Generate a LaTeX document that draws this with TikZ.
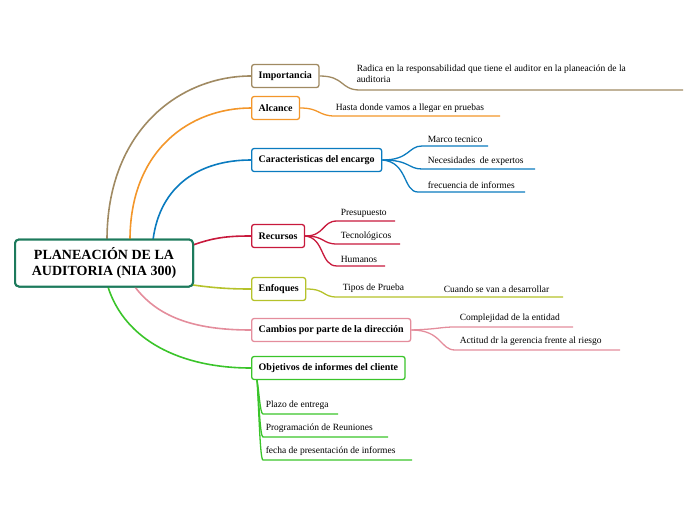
\documentclass[tikz,border=0pt]{standalone}
\usepackage{fontspec}
\setmainfont{Liberation Serif}
\begin{document}
\begin{tikzpicture}[x=1pt,y=-1pt,line width=1.5pt,
  topic/.style={draw=#1,rounded corners=2.5pt,fill=white,font=\fontsize{10}{12}\selectfont\bfseries,inner xsep=7pt,minimum height=23pt,anchor=west,line width=1.3pt},
  leaf/.style={font=\fontsize{9.5}{11}\selectfont,anchor=south west,inner sep=1pt},
  conn/.style={draw=#1,line width=1.6pt}]
\useasboundingbox (0,0) rectangle (696,520);
\definecolor{cimp}{HTML}{A08A62}\definecolor{calc}{HTML}{F3962A}
\definecolor{ccar}{HTML}{0A7BBF}\definecolor{crec}{HTML}{C8193C}
\definecolor{cenf}{HTML}{B5C22A}\definecolor{ccam}{HTML}{E48D9C}
\definecolor{cobj}{HTML}{3AC42A}\definecolor{croot}{HTML}{1D7A5C}
\node[draw=croot,line width=2pt,rounded corners=4pt,minimum width=178pt,minimum height=47pt,align=center,font=\fontsize{14}{16}\selectfont\bfseries,fill=white] (root) at (104,263) {PLANEACIÓN DE LA\\AUDITORIA (NIA 300)};
% connectors first
\coordinate (rImp) at (107,240);\coordinate (rAlc) at (130,240);\coordinate (rCar) at (153,240);
\coordinate (rRec) at (193,245);\coordinate (rEnf) at (193,285);\coordinate (rCam) at (135,287);\coordinate (rObj) at (108,287);
\draw[conn=cimp] (rImp) .. controls (107,130) and (180,76) .. (251,76);
\draw[conn=calc] (rAlc) .. controls (130,150) and (190,108) .. (251,108);
\draw[conn=ccar] (rCar) .. controls (160,185) and (200,160) .. (251,160);
\draw[conn=crec] (rRec) .. controls (215,237) and (230,236) .. (251,236);
\draw[conn=cenf] (rEnf) .. controls (215,288) and (230,289) .. (251,289);
\draw[conn=ccam] (rCam) .. controls (160,320) and (200,330) .. (251,330);
\draw[conn=cobj] (rObj) .. controls (125,340) and (180,368) .. (251,368);
\node[draw=croot,line width=2pt,rounded corners=4pt,minimum width=178pt,minimum height=47pt,align=center,font=\fontsize{14}{16}\selectfont\bfseries,fill=white] at (104,263) {PLANEACIÓN DE LA\\AUDITORIA (NIA 300)};
\node[topic=cimp] (imp) at (251,76) {Importancia};
\node[topic=calc] (alc) at (251,108) {Alcance};
\node[topic=ccar] (car) at (251,160) {Caracteristicas del encargo};
\node[topic=crec] (rec) at (251,236) {Recursos};
\node[topic=cenf] (enf) at (251,289) {Enfoques};
\node[topic=ccam] (cam) at (251,330) {Cambios por parte de la dirección};
\node[topic=cobj] (obj) at (251,368) {Objetivos de informes del cliente};
% Importancia
\draw[conn=cimp,line width=1.3pt] (imp.east) .. controls (345,76) and (340,90) .. (360,90) -- (683,90);
\node[leaf,align=left,anchor=north west] at (355,63) {Radica en la responsabilidad que tiene el auditor en la planeación de la\\auditoria};
% Alcance
\draw[conn=calc,line width=1.3pt] (alc.east) .. controls (320,108) and (318,116) .. (335,116) -- (500,116);
\node[leaf] at (334,114) {Hasta donde vamos a llegar en pruebas};
% Caracteristicas
\draw[conn=ccar,line width=1.3pt] (car.east) .. controls (410,160) and (408,146) .. (422,146) -- (488,146);
\draw[conn=ccar,line width=1.3pt] (car.east) .. controls (410,160) and (408,169) .. (422,169) -- (535,169);
\draw[conn=ccar,line width=1.3pt] (car.east) .. controls (408,162) and (403,192) .. (418,192) -- (525,192);
\node[leaf] at (426,144) {Marco tecnico};
\node[leaf] at (426,167) {Necesidades\ \ de expertos};
\node[leaf] at (426,190) {frecuencia de informes};
% Recursos
\draw[conn=crec,line width=1.3pt] (rec.east) .. controls (325,236) and (322,221) .. (337,221) -- (395,221);
\draw[conn=crec,line width=1.3pt] (rec.east) .. controls (325,236) and (322,244) .. (337,244) -- (400,244);
\draw[conn=crec,line width=1.3pt] (rec.east) .. controls (325,238) and (320,266) .. (337,266) -- (385,266);
\node[leaf] at (339,219) {Presupuesto};
\node[leaf] at (339,242) {Tecnológicos};
\node[leaf] at (339,264) {Humanos};
% Enfoques
\draw[conn=cenf,line width=1.3pt] (enf.east) .. controls (326,289) and (322,297) .. (337,297) -- (563,297);
\node[leaf] at (341,294) {Tipos de Prueba};
\node[leaf] at (442,294) {Cuando se van a desarrollar};
% Cambios
\draw[conn=ccam,line width=1.3pt] (cam.east) .. controls (440,329) and (440,327) .. (455,327) -- (573,327);
\draw[conn=ccam,line width=1.3pt] (cam.east) .. controls (442,330) and (440,350) .. (455,350) -- (620,350);
\node[leaf] at (458,324) {Complejidad de la entidad};
\node[leaf] at (458,347) {Actitud dr la gerencia frente al riesgo};
% Objetivos
\coordinate (ob) at ([xshift=6pt]obj.south west);
\draw[conn=cobj,line width=1.3pt] (ob) .. controls (259,390) and (260,414) .. (263,414) -- (338,414);
\draw[conn=cobj,line width=1.3pt] (ob) .. controls (259,400) and (260,437) .. (263,437) -- (388,437);
\draw[conn=cobj,line width=1.3pt] (ob) .. controls (259,410) and (260,460) .. (263,460) -- (412,460);
\node[leaf] at (264,411) {Plazo de entrega};
\node[leaf] at (264,434) {Programación de Reuniones};
\node[leaf] at (264,457) {fecha de presentación de informes};
\end{tikzpicture}
\end{document}
